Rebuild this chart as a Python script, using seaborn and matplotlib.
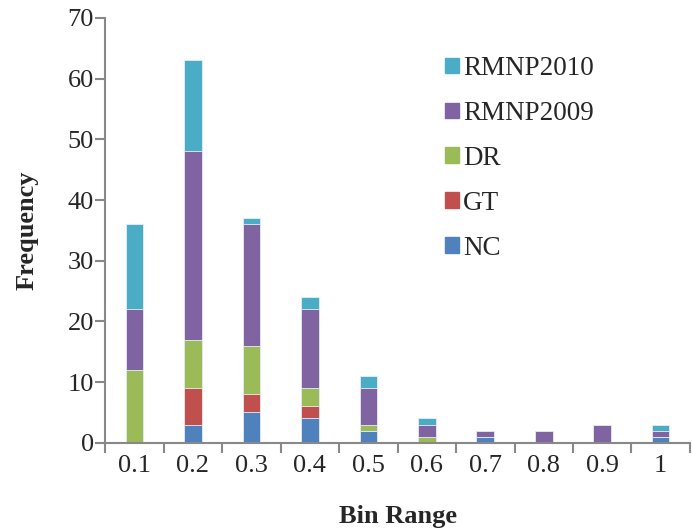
import numpy as np
import pandas as pd
import matplotlib
matplotlib.use("Agg")
import matplotlib.pyplot as plt
import matplotlib.patches as mpatches
import seaborn as sns

# Dados
bins = ["0.1", "0.2", "0.3", "0.4", "0.5", "0.6", "0.7", "0.8", "0.9", "1"]
nc = [0, 3, 5, 4, 2, 0, 1, 0, 0, 1]
gt = [0, 6, 3, 2, 0, 0, 0, 0, 0, 0]
dr = [12, 8, 8, 3, 1, 1, 0, 0, 0, 0]
rmnp2009 = [10, 31, 20, 13, 6, 2, 1, 2, 3, 1]
rmnp2010 = [14, 15, 1, 2, 2, 1, 0, 0, 0, 1]

series = ["NC", "GT", "DR", "RMNP2009", "RMNP2010"]
colors = ["#4F81BD", "#C0504D", "#9BBB59", "#8064A2", "#4BACC6"]

sns.set_style("white")
plt.rcParams["font.family"] = ["Liberation Serif", "DejaVu Serif"]

fig = plt.figure(figsize=(6.92, 5.29), dpi=100)
ax = fig.add_axes([0.152, 0.163, 0.845, 0.803])

# Empilhamento: desenha as somas acumuladas do topo para a base
values = [nc, gt, dr, rmnp2009, rmnp2010]
cumul = np.cumsum(np.array(values), axis=0)
for i in range(len(series) - 1, -1, -1):
    df = pd.DataFrame({"bin": bins, "value": cumul[i]})
    sns.barplot(data=df, x="bin", y="value", color=colors[i], width=0.3,
                edgecolor="#e8eef5", linewidth=0.6, saturation=1, ax=ax)

ax.set_xlim(-0.5, len(bins) - 0.5)
ax.set_ylim(0, 70)
ax.set_yticks(range(0, 71, 10))
ax.set_xlabel("Bin Range", fontsize=19, fontweight="bold", labelpad=20)
ax.set_ylabel("Frequency", fontsize=19, fontweight="bold", labelpad=21)

# Marcas do eixo x entre as categorias
ax.set_xticks(np.arange(-0.5, len(bins), 1), minor=True)
ax.tick_params(axis="x", which="major", bottom=False, length=0, labelsize=19, pad=9)
ax.tick_params(axis="x", which="minor", bottom=True, length=7, width=1.5, color="#888888", direction="out")
ax.tick_params(axis="y", left=True, length=7, width=1.5, color="#888888", direction="out", labelsize=19, pad=1)

for side in ["top", "right"]:
    ax.spines[side].set_visible(False)
for side in ["left", "bottom"]:
    ax.spines[side].set_color("#888888")
    ax.spines[side].set_linewidth(1.5)

handles = [mpatches.Patch(color=colors[i], label=series[i]) for i in range(len(series) - 1, -1, -1)]
ax.legend(handles=handles, loc="upper left", bbox_to_anchor=(0.558, 0.942), frameon=False,
          borderpad=0, fontsize=19.5, labelspacing=0.735, handlelength=0.52, handleheight=0.52,
          handletextpad=0.15)

fig.savefig("out.png", dpi=100)
